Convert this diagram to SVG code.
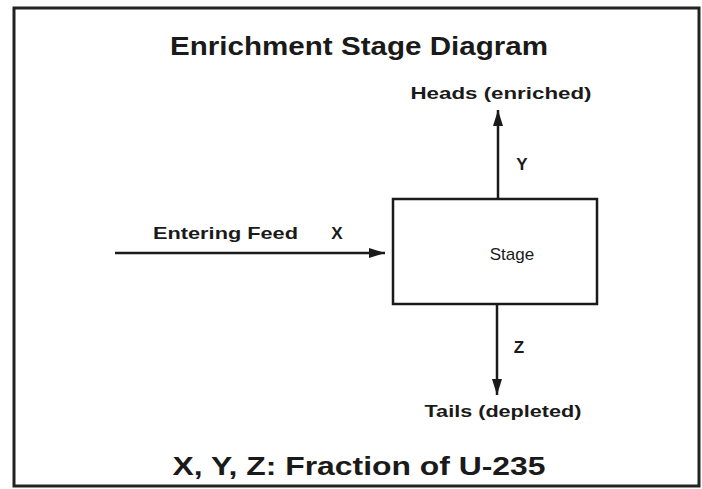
<svg xmlns="http://www.w3.org/2000/svg" width="702" height="489" viewBox="0 0 702 489">
<style>
.t{font-family:"Liberation Sans",Arial,sans-serif;fill:#1a1a1a}
.b{font-weight:bold}
.ln{stroke:#1a1a1a;stroke-width:2.5;fill:none}
</style>
<defs>
<marker id="ah2" viewBox="0 0 16 10" refX="16" refY="5" markerWidth="16" markerHeight="10" markerUnits="userSpaceOnUse" orient="auto">
<path d="M0,0 L16,5 L0,10 z" fill="#1a1a1a"/>
</marker>
</defs>
<rect x="0" y="0" width="702" height="489" fill="#fff"/>
<rect x="14" y="8" width="685" height="478" fill="none" stroke="#222" stroke-width="3"/>
<g id="title"><text class="t b" x="359" y="55" font-size="25" text-anchor="middle" textLength="378" lengthAdjust="spacingAndGlyphs">Enrichment Stage Diagram</text></g>
<g id="heads"><text class="t b" x="501" y="99" font-size="17" text-anchor="middle" textLength="181" lengthAdjust="spacingAndGlyphs">Heads (enriched)</text></g>
<g id="tails"><text class="t b" x="503" y="417" font-size="17" text-anchor="middle" textLength="157" lengthAdjust="spacingAndGlyphs">Tails (depleted)</text></g>
<g id="feed"><text class="t b" x="153" y="239" font-size="17" textLength="145" lengthAdjust="spacingAndGlyphs">Entering Feed</text><text class="t b" x="337" y="239" font-size="17" text-anchor="middle">X</text></g>
<g id="stage"><rect x="393" y="199" width="204" height="105" fill="#fff" stroke="#1a1a1a" stroke-width="2.5"/><text class="t" x="512" y="260" font-size="17" text-anchor="middle">Stage</text></g>
<g id="connectors">
<line class="ln" x1="115" y1="253" x2="385" y2="253" marker-end="url(#ah2)"/>
<line class="ln" x1="498" y1="199" x2="498" y2="110" marker-end="url(#ah2)"/>
<line class="ln" x1="497" y1="304" x2="497" y2="395" marker-end="url(#ah2)"/>
</g>
<g id="labels"><text class="t b" x="522" y="170" font-size="17" text-anchor="middle">Y</text><text class="t b" x="519" y="353" font-size="17" text-anchor="middle">Z</text></g>
<g id="footer"><text class="t b" x="359" y="475" font-size="25" text-anchor="middle" textLength="373" lengthAdjust="spacingAndGlyphs">X, Y, Z: Fraction of U-235</text></g>
</svg>
